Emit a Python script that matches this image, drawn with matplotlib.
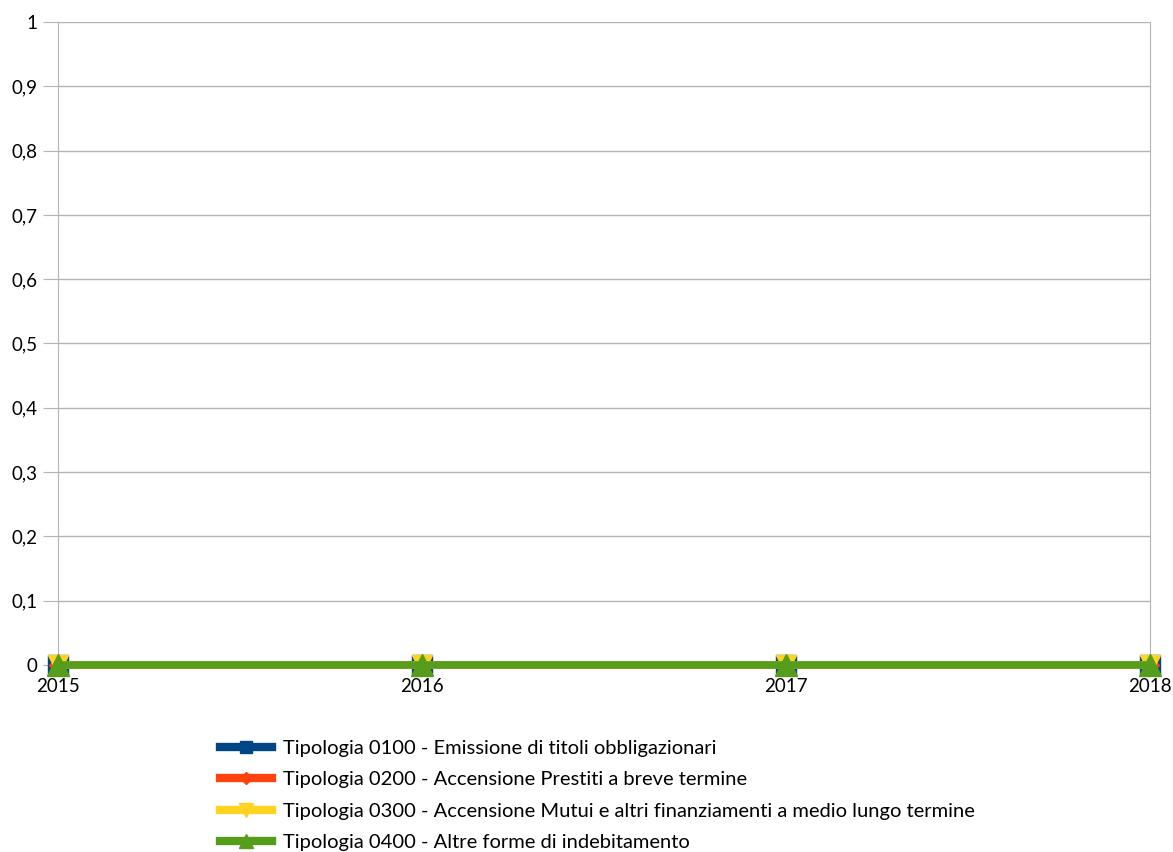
import matplotlib
matplotlib.use('Agg')
import matplotlib.pyplot as plt
from matplotlib.ticker import FuncFormatter, MultipleLocator

plt.rcParams['font.family'] = ['Lato', 'DejaVu Sans']

years = [2015, 2016, 2017, 2018]
labels = ['Tipologia 0100 - Emissione di titoli obbligazionari',
          'Tipologia 0200 - Accensione Prestiti a breve termine',
          'Tipologia 0300 - Accensione Mutui e altri finanziamenti a medio lungo termine',
          'Tipologia 0400 - Altre forme di indebitamento']
values_0100 = [0, 0, 0, 0]
values_0200 = [0, 0, 0, 0]
values_0300 = [0, 0, 0, 0]
values_0400 = [0, 0, 0, 0]

series = [values_0100, values_0200, values_0300, values_0400]
colors = ['#004586', '#ff420e', '#ffd320', '#579d1c']
markers = ['s', 'D', 'v', '^']
sizes = [14, 9, 15, 16]

fig = plt.figure(figsize=(11.73, 8.52), dpi=100)
ax = fig.add_axes([58 / 1173, 1 - 665 / 852, (1150 - 58) / 1173, (665 - 22) / 852])

x = range(len(years))
for vals, c, m, s, lab in zip(series, colors, markers, sizes, labels):
    ax.plot(x, vals, color=c, marker=m, markersize=s, linewidth=5.5,
            label=lab, clip_on=False, zorder=3)

ax.set_xlim(0, len(years) - 1)
ax.set_ylim(0, 1)
ax.set_xticks(list(x))
ax.set_xticklabels([str(y) for y in years])
ax.yaxis.set_major_locator(MultipleLocator(0.1))
ax.yaxis.set_major_formatter(FuncFormatter(lambda v, p: ('%g' % round(v, 1)).replace('.', ',')))
ax.grid(axis='y', color='#b3b3b3', linewidth=1)
ax.set_axisbelow(True)
for sp in ['left', 'right']:
    ax.spines[sp].set_color('#b3b3b3')
ax.spines['top'].set_visible(False)
ax.spines['bottom'].set_visible(False)
ax.tick_params(axis='y', length=11, color='#b3b3b3', labelsize=13.5, pad=4)
ax.tick_params(axis='x', length=5, color='#b3b3b3', labelsize=13.5, pad=4)

leg = ax.legend(loc='upper left', bbox_to_anchor=(202 / 1173, 1 - 722 / 852),
                bbox_transform=fig.transFigure, frameon=False, fontsize=14.5,
                markerscale=0.65, handlelength=2.6, labelspacing=0.7,
                handletextpad=0.5)
for line in leg.get_lines():
    line.set_linewidth(6)

plt.savefig('out.png', dpi=100)
